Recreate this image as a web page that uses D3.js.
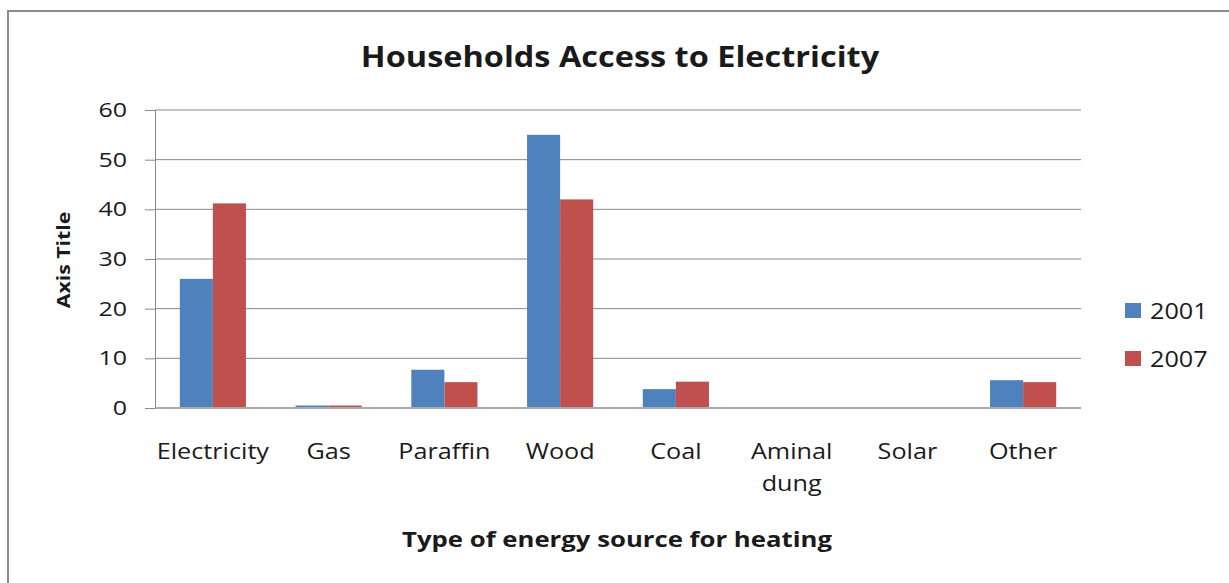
<!DOCTYPE html>
<html>
<head>
<meta charset="utf-8" />
<title>Households Access to Electricity</title>
<style>
body { margin: 0; background: #fff; }
text { font-family: "Open Sans", sans-serif; fill: #1a1a1a; }
.grid line { stroke: #888; stroke-width: 1px; }
</style>
</head>
<body>
<script src="https://cdn.jsdelivr.net/npm/d3@7"></script>
<script>
var categories = ["Electricity", "Gas", "Paraffin", "Wood", "Coal", "Aminal dung", "Solar", "Other"];
var years = ["2001", "2007"];
var values2001 = [26, 0.5, 7.7, 55, 3.8, 0, 0, 5.6];
var values2007 = [41.2, 0.5, 5.2, 42, 5.3, 0, 0, 5.2];
var yTicks = [0, 10, 20, 30, 40, 50, 60];
var colors = ["#4f81bd", "#c0504d"];

var width = 1229, height = 583;
var plotLeft = 155, plotRight = 1081, plotTop = 110, plotBottom = 408;
var stretch = 1.2; // the source text is a bit wider than Open Sans

var svg = d3.select("body").append("svg")
    .attr("width", width)
    .attr("height", height);

// text placed at (cx, cy) and stretched horizontally
function wideText(cx, cy, size, sx, anchor) {
    return svg.append("g")
        .attr("transform", "translate(" + cx + "," + cy + ") scale(" + sx + ",1)")
      .append("text")
        .attr("text-anchor", anchor || "middle")
        .style("font-size", size + "px");
}

// outer chart frame
svg.append("rect")
    .attr("x", 8).attr("y", 11)
    .attr("width", 1240).attr("height", 600)
    .attr("fill", "#fff")
    .attr("stroke", "#8c8c8c")
    .attr("stroke-width", 2);

var x = d3.scaleBand().domain(categories).range([plotLeft, plotRight]);
var y = d3.scaleLinear().domain([0, 60]).range([plotBottom, plotTop]);
var barW = x.bandwidth() / 3.5;

// gridlines
svg.append("g").attr("class", "grid")
  .selectAll("line")
    .data(yTicks.slice(1))
  .enter().append("line")
    .attr("x1", plotLeft).attr("x2", plotRight)
    .attr("y1", function(d) { return y(d); })
    .attr("y2", function(d) { return y(d); });

var yAxis = svg.append("g")
    .attr("transform", "translate(" + plotLeft + ",0)")
    .call(d3.axisLeft(y).tickValues(yTicks).tickSize(10).tickPadding(18));
yAxis.select(".domain").attr("stroke", "#888");
yAxis.selectAll(".tick line").attr("stroke", "#888");
yAxis.selectAll("text")
    .style("font-family", "'Open Sans', sans-serif")
    .style("font-size", "20px").attr("fill", "#1a1a1a")
    .attr("x", -28 / 1.25)
    .attr("transform", "scale(1.25,1)");

var series = [values2001, values2007];
series.forEach(function(vals, s) {
    svg.append("g").selectAll("rect")
        .data(vals)
      .enter().append("rect")
        .attr("x", function(d, i) { return x(categories[i]) + x.bandwidth() / 2 - barW + s * barW; })
        .attr("y", function(d) { return y(d); })
        .attr("width", barW)
        .attr("height", function(d) { return plotBottom - y(d); })
        .attr("fill", colors[s]);
});

// x axis line
svg.append("line")
    .attr("x1", plotLeft).attr("x2", plotRight)
    .attr("y1", plotBottom).attr("y2", plotBottom)
    .attr("stroke", "#aaa").attr("stroke-width", 2);

// category labels
categories.forEach(function(d) {
    var parts = d === "Aminal dung" ? ["Aminal", "dung"] : [d];
    var t = wideText(x(d) + x.bandwidth() / 2, 459, 21, stretch);
    parts.forEach(function(p, i) {
        t.append("tspan")
            .attr("x", 0)
            .attr("dy", i === 0 ? 0 : 32)
            .text(p);
    });
});

wideText(620, 67, 28, 1.16)
    .style("font-weight", "bold")
    .text("Households Access to Electricity");

wideText(617, 547, 22, 1.17)
    .style("font-weight", "bold")
    .text("Type of energy source for heating");

svg.append("g")
    .attr("transform", "translate(70,260) rotate(-90) scale(1.18,1)")
  .append("text")
    .attr("text-anchor", "middle")
    .style("font-size", "18px").style("font-weight", "bold")
    .text("Axis Title");

// legend
years.forEach(function(d, i) {
    var yy = 303 + i * 48;
    svg.append("rect")
        .attr("x", 1125).attr("y", yy)
        .attr("width", 16).attr("height", 15)
        .attr("fill", colors[i]);
    wideText(1150, yy + 16, 21, stretch, "start").text(d);
});
</script>
</body>
</html>
